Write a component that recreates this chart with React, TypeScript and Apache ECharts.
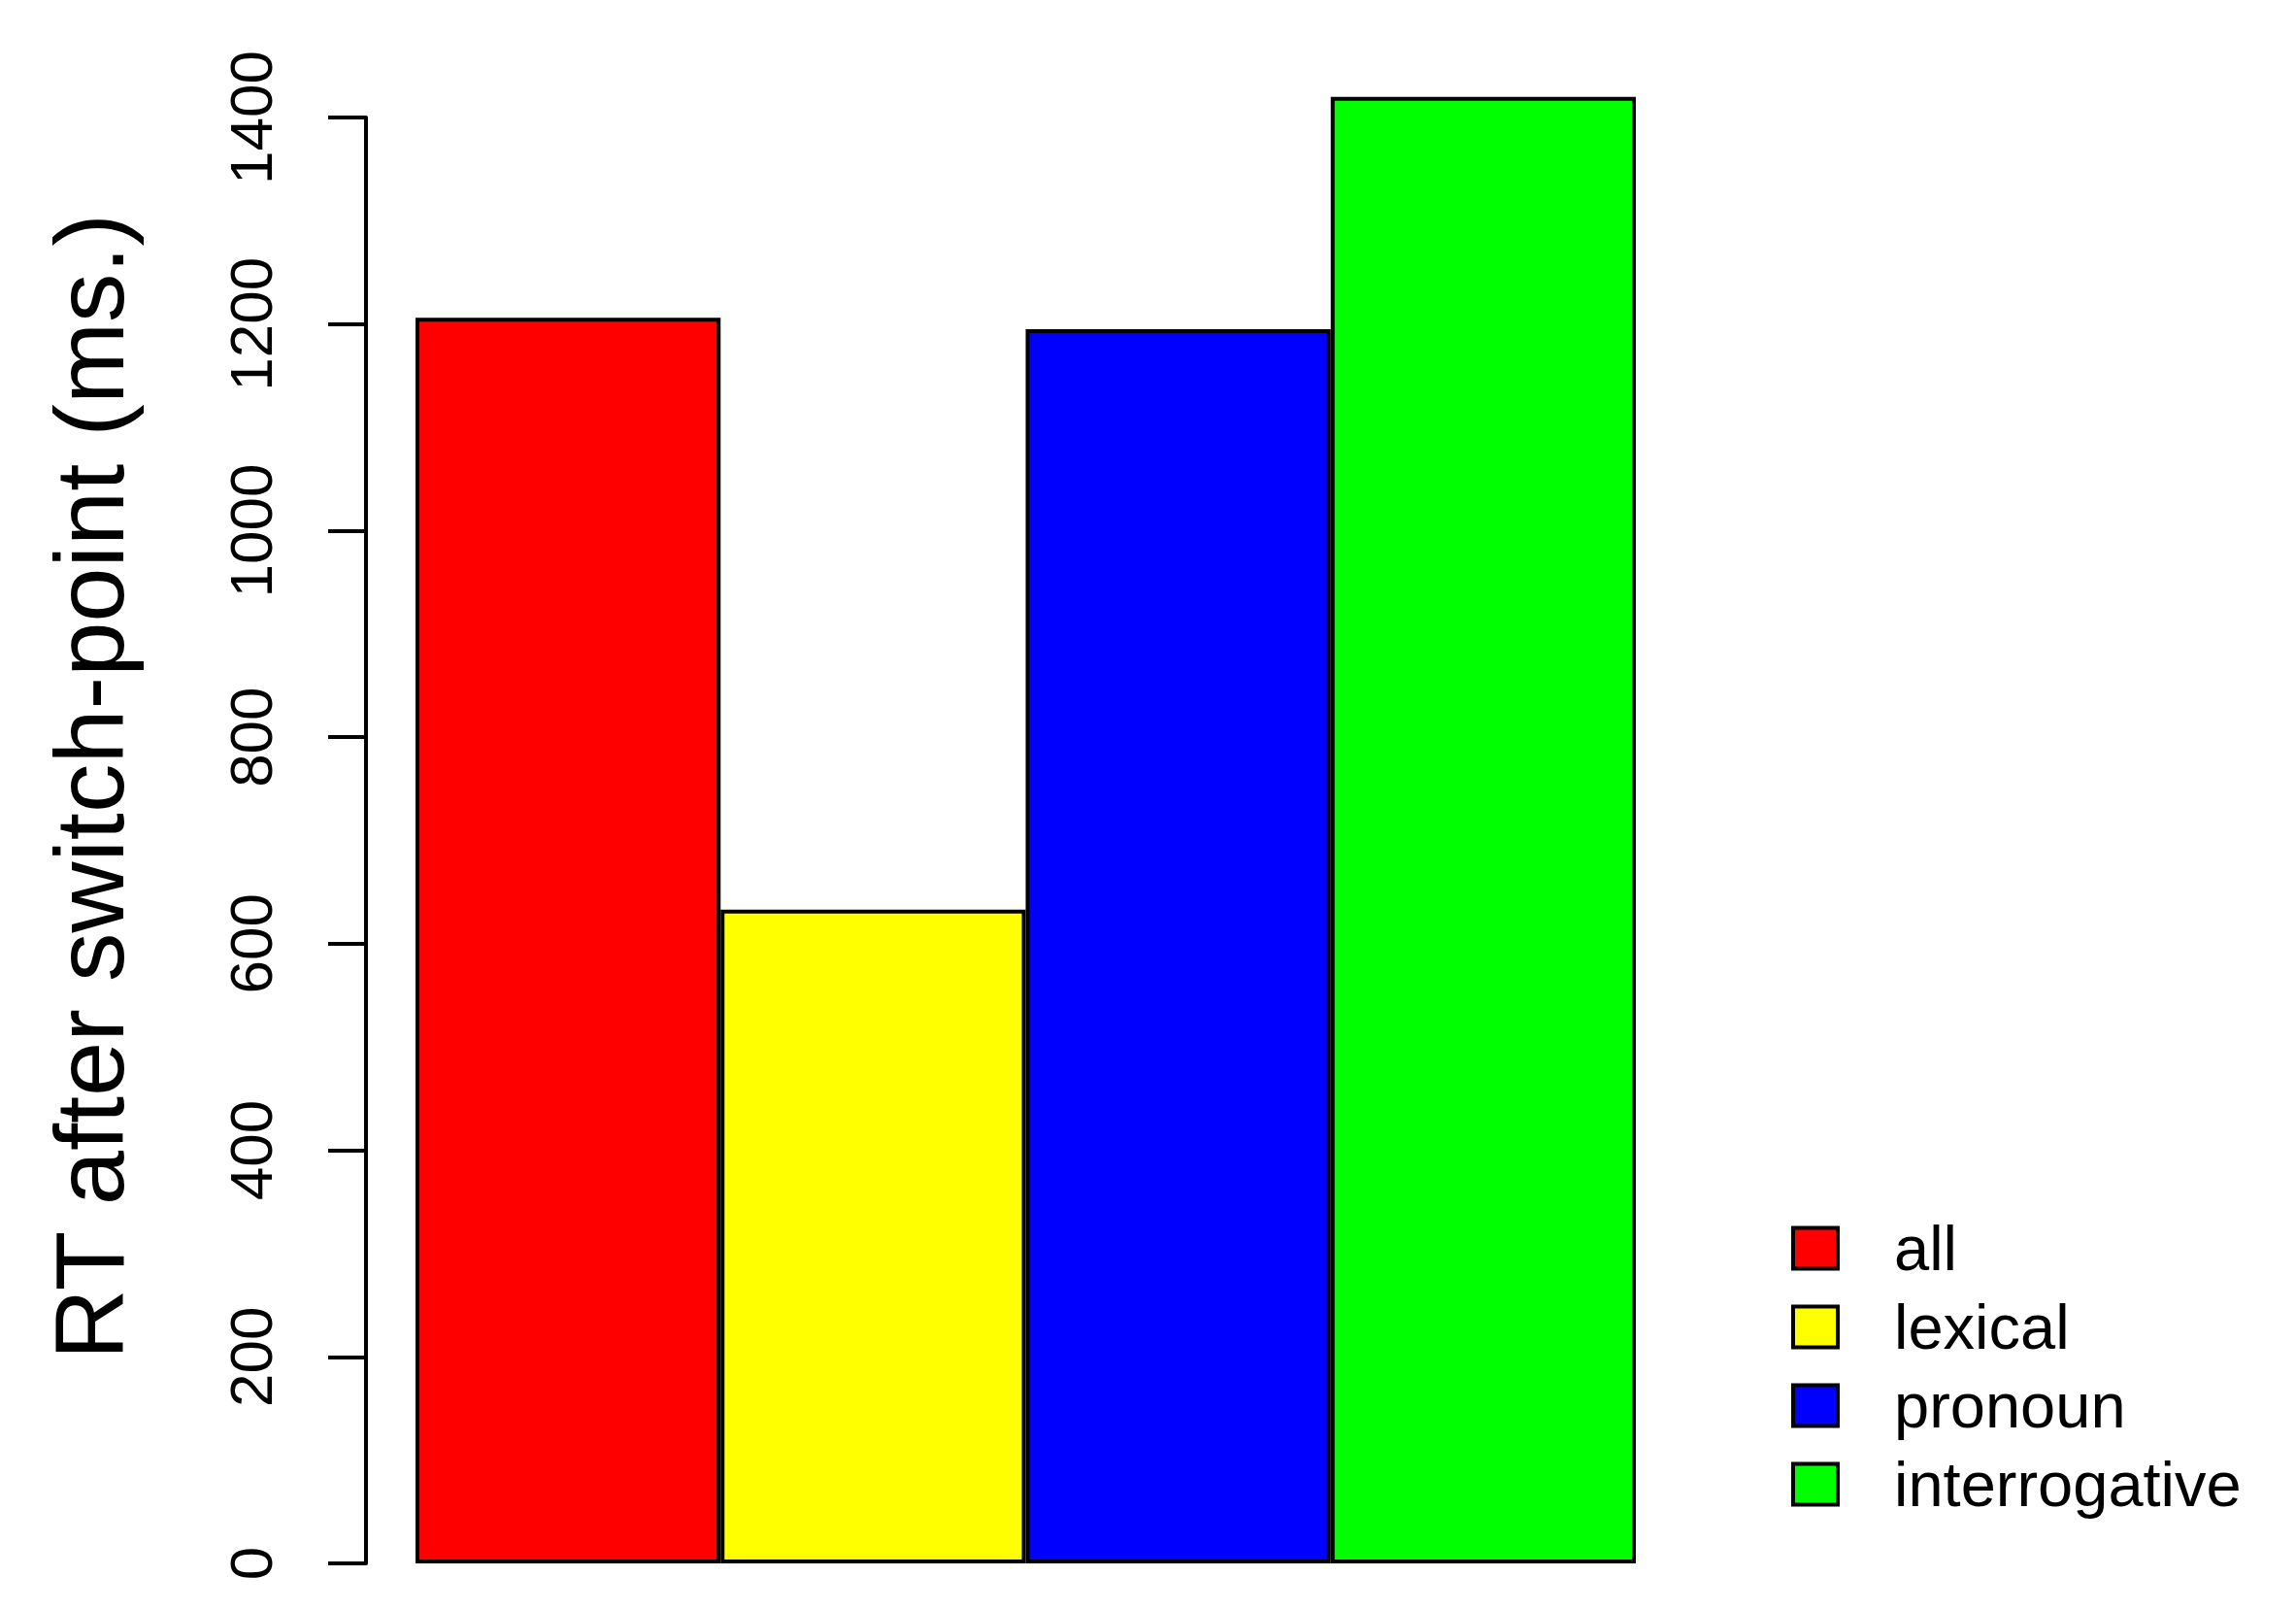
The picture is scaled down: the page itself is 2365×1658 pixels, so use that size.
import React, { useEffect, useRef } from "react";
import * as echarts from "echarts";

const categories = ["all", "lexical", "pronoun", "interrogative"];
const values = [1206, 633, 1195, 1420];
const colors = ["#FF0000", "#FFFF00", "#0000FF", "#00FF00"];
const yTicks = { min: 0, max: 1400, interval: 200 };
const yTitle = "RT after switch-point (ms.)";

const FONT = "'Liberation Sans', Arial, sans-serif";

export default function App() {
  const ref = useRef<HTMLDivElement>(null);
  useEffect(() => {
    if (!ref.current) return;
    const chart = echarts.init(ref.current, null, { renderer: "svg" });
    const series = categories.map((name, i) => ({
      name,
      type: "bar",
      data: [values[i]],
      barGap: "0%",
      barCategoryGap: "0%",
      clip: false,
      itemStyle: { color: colors[i], borderColor: "#000", borderWidth: 4 },
    }));
    chart.setOption({
      animation: false,
      backgroundColor: "#fff",
      textStyle: { fontFamily: FONT },
      grid: { left: 428, top: 121, width: 1257, bottom: 48, containLabel: false },
      xAxis: { type: "category", data: [""], show: false },
      yAxis: {
        type: "value",
        min: yTicks.min,
        max: yTicks.max,
        interval: yTicks.interval,
        offset: 51,
        axisLine: { show: true, lineStyle: { color: "#000", width: 4 } },
        axisTick: { show: true, length: 39, lineStyle: { color: "#000", width: 4 } },
        splitLine: { show: false },
        axisLabel: {
          rotate: 90,
          fontSize: 62,
          color: "#000",
          margin: 88,
          fontFamily: FONT,
          formatter: (v: number) => String(v),
        },
      },
      legend: {
        orient: "vertical",
        left: 1840,
        top: 1248,
        itemWidth: 46,
        itemHeight: 42,
        itemGap: 16,
        icon: "rect",
        selectedMode: false,
        itemStyle: { borderColor: "#000", borderWidth: 4 },
        textStyle: {
          fontSize: 65,
          color: "#000",
          fontFamily: FONT,
          padding: [0, 0, 0, 53],
        },
        data: categories,
      },
      graphic: [
        {
          type: "text",
          x: 92,
          y: 810,
          rotation: Math.PI / 2,
          style: {
            text: yTitle,
            fontSize: 101,
            fontFamily: FONT,
            fill: "#000",
            textAlign: "center",
            textVerticalAlign: "middle",
          },
        },
      ],
      series,
    });
    return () => chart.dispose();
  }, []);
  return (
    <div
      ref={ref}
      style={{ position: "fixed", left: 0, top: 0, width: 2365, height: 1658 }}
    />
  );
}
